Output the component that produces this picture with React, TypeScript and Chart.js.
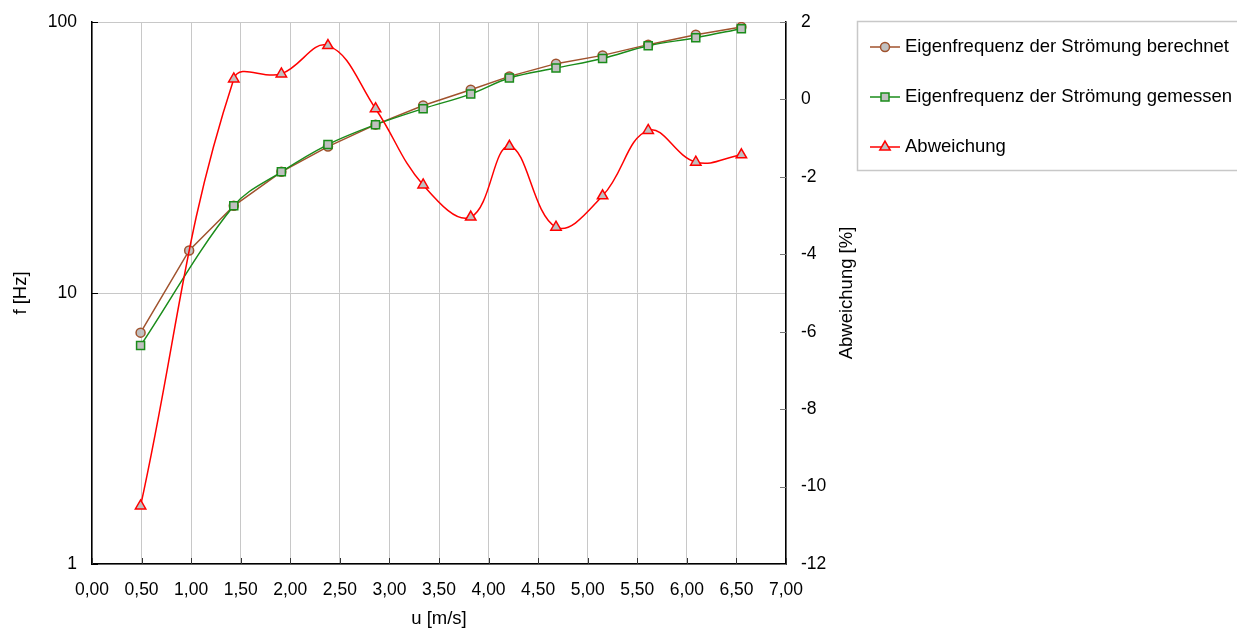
import React, { useEffect, useRef } from 'react';
import { Chart, registerables } from 'chart.js';

Chart.register(...registerables);

// ---- data ----
const uValues = [0.49, 0.98, 1.43, 1.91, 2.38, 2.86, 3.34, 3.82, 4.21, 4.68, 5.15, 5.61, 6.09, 6.55];
const berechnet = [7.14, 14.35, 20.98, 28.0, 34.7, 41.8, 49.2, 56.2, 63.0, 70.2, 75.3, 82.5, 89.8, 95.8];
const gemessen = [6.4, null, 20.98, 28.0, 35.3, 41.8, 47.9, 54.2, 62.1, 67.6, 73.4, 81.7, 87.5, 94.5];
const abweichung = [-10.5, null, 0.53, 0.66, 1.39, -0.24, -2.21, -3.04, -1.21, -3.3, -2.49, -0.8, -1.62, -1.43];

const xTicks = [0, 0.5, 1, 1.5, 2, 2.5, 3, 3.5, 4, 4.5, 5, 5.5, 6, 6.5, 7];
const leftTicks = [1, 10, 100];
const rightTicks = [-12, -10, -8, -6, -4, -2, 0, 2];

const seriesNames = [
  'Eigenfrequenz der Strömung berechnet',
  'Eigenfrequenz der Strömung gemessen',
  'Abweichung',
];
const xTitle = 'u [m/s]';
const leftTitle = 'f [Hz]';
const rightTitle = 'Abweichung [%]';

const FONT = "'Liberation Sans', Arial, sans-serif";
const BROWN = '#A0522D';
const GREEN = '#1A8C1A';
const RED = '#FF0000';
const FILL = '#C0C0C0';
const GRID = '#C8C8C8';

function toPoints(vals: (number | null)[]) {
  return uValues.map((u, i) => ({ x: u, y: vals[i] }));
}

function drawMarker(ctx: CanvasRenderingContext2D, style: string, x: number, y: number, stroke: string) {
  ctx.save();
  ctx.fillStyle = FILL;
  ctx.strokeStyle = stroke;
  ctx.lineWidth = 1.5;
  ctx.beginPath();
  if (style === 'circle') {
    ctx.arc(x, y, 4.5, 0, Math.PI * 2);
  } else if (style === 'rect') {
    ctx.rect(x - 4, y - 4, 8, 8);
  } else {
    const r = 6;
    ctx.moveTo(x, y - r);
    ctx.lineTo(x + r * Math.sin((2 * Math.PI) / 3), y + r / 2);
    ctx.lineTo(x - r * Math.sin((2 * Math.PI) / 3), y + r / 2);
    ctx.closePath();
  }
  ctx.fill();
  ctx.stroke();
  ctx.restore();
}

const extrasPlugin = {
  id: 'extras',
  afterDraw(chart: any) {
    const ctx: CanvasRenderingContext2D = chart.ctx;
    const area = chart.chartArea;
    const sx = chart.scales.x;
    const sy = chart.scales.y;
    const sy1 = chart.scales.y1;
    ctx.save();
    // inward tick marks
    ctx.lineWidth = 1;
    ctx.strokeStyle = '#333';
    xTicks.forEach((v) => {
      const px = Math.round(sx.getPixelForValue(v)) + 0.5;
      ctx.beginPath();
      ctx.moveTo(px, area.bottom);
      ctx.lineTo(px, area.bottom - 6);
      ctx.stroke();
    });
    ctx.strokeStyle = '#000';
    leftTicks.forEach((v) => {
      const py = Math.round(sy.getPixelForValue(v)) + 0.5;
      ctx.beginPath();
      ctx.moveTo(area.left, py);
      ctx.lineTo(area.left + 6, py);
      ctx.stroke();
    });
    ctx.strokeStyle = '#777';
    rightTicks.forEach((v) => {
      const py = Math.round(sy1.getPixelForValue(v)) + 0.5;
      ctx.beginPath();
      ctx.moveTo(area.right, py);
      ctx.lineTo(area.right - 6, py);
      ctx.stroke();
    });

    // right axis title (reads bottom to top)
    ctx.fillStyle = '#000';
    ctx.font = `18.5px ${FONT}`;
    ctx.textAlign = 'center';
    ctx.textBaseline = 'middle';
    ctx.translate(847, (area.top + area.bottom) / 2);
    ctx.rotate(-Math.PI / 2);
    ctx.fillText(rightTitle, 0, 0);
    ctx.restore();

    // legend
    ctx.save();
    ctx.strokeStyle = GRID;
    ctx.lineWidth = 1.5;
    ctx.strokeRect(857.5, 21.5, 420, 149);
    const entries = [
      { name: seriesNames[0], color: BROWN, style: 'circle', y: 47 },
      { name: seriesNames[1], color: GREEN, style: 'rect', y: 97 },
      { name: seriesNames[2], color: RED, style: 'triangle', y: 147 },
    ];
    entries.forEach((e) => {
      ctx.strokeStyle = e.color;
      ctx.lineWidth = 1.5;
      ctx.beginPath();
      ctx.moveTo(870, e.y);
      ctx.lineTo(900, e.y);
      ctx.stroke();
      drawMarker(ctx, e.style, 885, e.y, e.color);
      ctx.fillStyle = '#000';
      ctx.font = `18.5px ${FONT}`;
      ctx.textAlign = 'left';
      ctx.textBaseline = 'middle';
      ctx.fillText(e.name, 905, e.y);
    });
    ctx.restore();
  },
};

export default function App() {
  const canvasRef = useRef<HTMLCanvasElement | null>(null);

  useEffect(() => {
    if (!canvasRef.current) return;
    Chart.defaults.font.family = FONT;
    Chart.defaults.color = '#000';

    const chart = new Chart(canvasRef.current, {
      type: 'line',
      data: {
        datasets: [
          {
            label: seriesNames[0],
            data: toPoints(berechnet),
            yAxisID: 'y',
            borderColor: BROWN,
            backgroundColor: FILL,
            borderWidth: 1.5,
            tension: 0,
            pointStyle: 'circle',
            pointRadius: 4.5,
            pointBorderWidth: 1.5,
            pointBorderColor: BROWN,
            pointBackgroundColor: FILL,
            order: 2,
          },
          {
            label: seriesNames[1],
            data: toPoints(gemessen),
            yAxisID: 'y',
            borderColor: GREEN,
            backgroundColor: FILL,
            borderWidth: 1.5,
            tension: 0.35,
            spanGaps: true,
            pointStyle: 'rect',
            pointRadius: 5.66,
            pointBorderWidth: 1.5,
            pointBorderColor: GREEN,
            pointBackgroundColor: FILL,
            order: 1,
          },
          {
            label: seriesNames[2],
            data: toPoints(abweichung),
            yAxisID: 'y1',
            borderColor: RED,
            backgroundColor: FILL,
            borderWidth: 1.5,
            tension: 0.4,
            spanGaps: true,
            pointStyle: 'triangle',
            pointRadius: 6,
            pointBorderWidth: 1.5,
            pointBorderColor: RED,
            pointBackgroundColor: FILL,
            order: 0,
          },
        ],
      },
      options: {
        responsive: true,
        maintainAspectRatio: false,
        animation: false,
        events: [],
        layout: { padding: { left: 0, top: 22, right: 371, bottom: 0 } },
        plugins: {
          legend: { display: false },
          tooltip: { enabled: false },
          title: { display: false },
        },
        scales: {
          x: {
            type: 'linear',
            position: 'bottom',
            min: 0,
            max: 7,
            afterBuildTicks: (s: any) => {
              s.ticks = xTicks.map((v) => ({ value: v }));
            },
            afterFit: (s: any) => {
              s.height = 66;
            },
            ticks: {
              autoSkip: false,
              maxRotation: 0,
              minRotation: 0,
              padding: 16,
              color: '#000',
              font: { size: 17.5 },
              callback: (v: any) => Number(v).toFixed(2).replace('.', ','),
            },
            grid: { color: GRID, lineWidth: 1, drawTicks: false },
            border: { color: '#000', width: 1.5 },
            title: { display: true, text: xTitle, color: '#000', font: { size: 18.5 }, padding: 0 },
          },
          y: {
            type: 'logarithmic',
            position: 'left',
            min: 1,
            max: 100,
            afterBuildTicks: (s: any) => {
              s.ticks = leftTicks.map((v) => ({ value: v }));
            },
            afterFit: (s: any) => {
              s.width = 92;
            },
            ticks: {
              padding: 4,
              color: '#000',
              font: { size: 17.5 },
              callback: (v: any) => String(v),
            },
            grid: { color: GRID, lineWidth: 1, drawTicks: true, tickLength: 11, tickColor: 'rgba(0,0,0,0)' },
            border: { color: '#000', width: 1.5 },
            title: { display: true, text: leftTitle, color: '#000', font: { size: 18.5 }, padding: { top: 10, bottom: 0 } },
          },
          y1: {
            type: 'linear',
            position: 'right',
            min: -12,
            max: 2,
            afterBuildTicks: (s: any) => {
              s.ticks = rightTicks.map((v) => ({ value: v }));
            },
            afterFit: (s: any) => {
              s.width = 80;
            },
            ticks: {
              padding: 4,
              color: '#000',
              font: { size: 17.5 },
              callback: (v: any) => String(v),
            },
            grid: { drawOnChartArea: false, drawTicks: true, tickLength: 11, tickColor: 'rgba(0,0,0,0)' },
            border: { color: '#000', width: 1.5 },
            title: { display: false },
          },
        },
      },
      plugins: [extrasPlugin],
    } as any);

    return () => chart.destroy();
  }, []);

  return (
    <div style={{ position: 'absolute', left: 0, top: 0, width: 1237, height: 630, background: '#fff' }}>
      <canvas ref={canvasRef} />
    </div>
  );
}
